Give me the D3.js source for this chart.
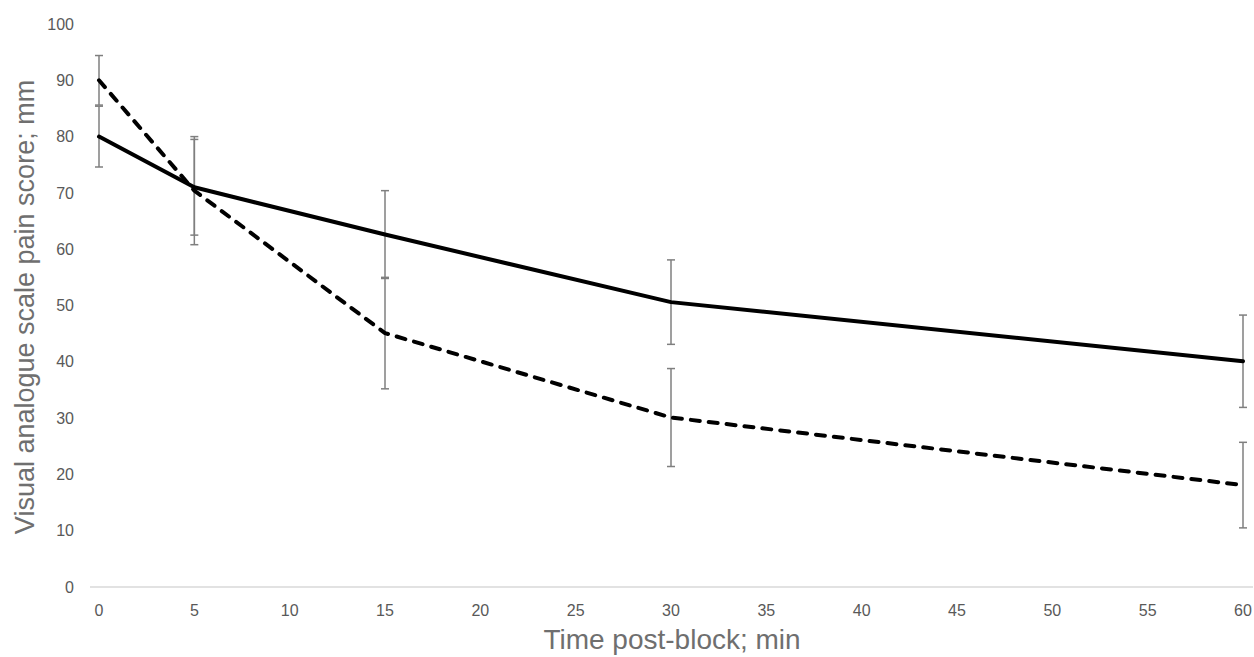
<!DOCTYPE html>
<html lang="en">
<head>
    <meta charset="utf-8">
    <title>VAS pain score</title>
    <script src="https://cdn.jsdelivr.net/npm/d3@7"></script>
</head>
<style>
body { margin: 0; background: #fff; }
text { font-family: "Liberation Sans", Arial, sans-serif; }
</style>
<body>
<script type="text/javascript">
    // data
    var times = [0, 5, 15, 30, 60];
    var xTicks = [0, 5, 10, 15, 20, 25, 30, 35, 40, 45, 50, 55, 60];
    var yTicks = [0, 10, 20, 30, 40, 50, 60, 70, 80, 90, 100];
    var solidMean = [80, 71, 62.6, 50.6, 40.1];
    var solidErr = [5.4, 8.5, 7.8, 7.5, 8.2];
    var dashedMean = [90, 70.4, 45.1, 30.1, 18.1];
    var dashedErr = [4.4, 9.6, 9.9, 8.7, 7.6];

    var width = 1254, height = 657;

    var svg = d3.select("body")
            .append("svg")
            .attr("width", width)
            .attr("height", height);

    var x = d3.scaleLinear().domain([0, 60]).range([99, 1243]);
    var y = d3.scaleLinear().domain([0, 100]).range([587, 24]);

    // baseline
    svg.append("line")
            .attr("x1", 90).attr("x2", 1253)
            .attr("y1", y(0)).attr("y2", y(0))
            .attr("stroke", "#d9d9d9")
            .attr("stroke-width", 1.5);

    // y tick labels
    svg.selectAll(".ytick")
            .data(yTicks)
            .enter()
            .append("text")
            .attr("class", "ytick")
            .attr("x", 74)
            .attr("y", function(d) { return y(d); })
            .attr("dy", "0.35em")
            .attr("text-anchor", "end")
            .attr("font-size", "16px")
            .attr("fill", "#595959")
            .text(function(d) { return d; });

    // x tick labels
    svg.selectAll(".xtick")
            .data(xTicks)
            .enter()
            .append("text")
            .attr("class", "xtick")
            .attr("x", function(d) { return x(d); })
            .attr("y", 616)
            .attr("text-anchor", "middle")
            .attr("font-size", "16px")
            .attr("fill", "#595959")
            .text(function(d) { return d; });

    // axis titles
    svg.append("text")
            .attr("x", 672)
            .attr("y", 649)
            .attr("text-anchor", "middle")
            .attr("font-size", "28px")
            .attr("fill", "#6f6f6f")
            .text("Time post-block; min");

    svg.append("text")
            .attr("transform", "translate(34," + 307 + ") rotate(-90)")
            .attr("text-anchor", "middle")
            .attr("font-size", "27px")
            .attr("fill", "#6f6f6f")
            .text("Visual analogue scale pain score; mm");

    // error bars
    function errorBars(means, errs, cls) {
        var g = svg.append("g").attr("class", cls);
        var bars = g.selectAll("g")
                .data(times.map(function(t, i) { return {t: t, m: means[i], e: errs[i]}; }))
                .enter()
                .append("g")
                .attr("stroke", "#7f7f7f")
                .attr("stroke-width", 1.5);
        bars.append("line")
                .attr("x1", function(d) { return x(d.t); })
                .attr("x2", function(d) { return x(d.t); })
                .attr("y1", function(d) { return y(d.m + d.e); })
                .attr("y2", function(d) { return y(d.m - d.e); });
        [1, -1].forEach(function(s) {
            bars.append("line")
                    .attr("x1", function(d) { return x(d.t) - 4; })
                    .attr("x2", function(d) { return x(d.t) + 4; })
                    .attr("y1", function(d) { return y(d.m + s * d.e); })
                    .attr("y2", function(d) { return y(d.m + s * d.e); });
        });
    }
    errorBars(solidMean, solidErr, "err-solid");
    errorBars(dashedMean, dashedErr, "err-dashed");

    var line = d3.line()
            .x(function(d) { return x(d[0]); })
            .y(function(d) { return y(d[1]); });

    svg.append("path")
            .attr("d", line(d3.zip(times, dashedMean)))
            .attr("fill", "none")
            .attr("stroke", "#000")
            .attr("stroke-width", 4)
            .attr("stroke-linecap", "round")
            .attr("stroke-linejoin", "round")
            .attr("stroke-dasharray", "9,9");

    svg.append("path")
            .attr("d", line(d3.zip(times, solidMean)))
            .attr("fill", "none")
            .attr("stroke", "#000")
            .attr("stroke-width", 4)
            .attr("stroke-linecap", "round")
            .attr("stroke-linejoin", "round");
</script>
</body>
</html>
